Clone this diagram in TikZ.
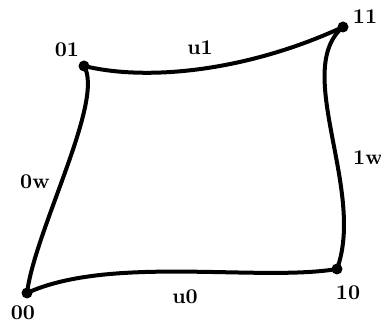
\documentclass[tikz,border=0pt]{standalone}
\usepackage{tikz}

\begin{document}
\begin{tikzpicture}[
  x=0.5pt,y=-0.5pt,
  font=\fontsize{10.5}{12}\selectfont\bfseries,
  dot/.style={circle,fill=black,inner sep=0pt,minimum size=5.5pt},
  edge/.style={line width=2pt,line cap=round},
  lbl/.style={inner sep=1pt}]
\useasboundingbox (0,0) rectangle (381,324);
% corners of the patch
\node[dot] (p00) at (27,293) {};
\node[dot] (p10) at (337,269) {};
\node[dot] (p11) at (343,27) {};
\node[dot] (p01) at (84,66) {};
% boundary curves
\draw[edge] (p00.center) .. controls (110,255) and (260,282) .. (p10.center);
\draw[edge] (p10.center) .. controls (366,190) and (292,70) .. (p11.center);
\draw[edge] (p01.center) .. controls (150,82) and (250,70) .. (p11.center);
\draw[edge] (p00.center) .. controls (35,230) and (105,100) .. (p01.center);
% labels
\node[lbl] (t00) at (23,313) {00};
\node[lbl] (t10) at (348,293) {10};
\node[lbl] (t11) at (365,17) {11};
\node[lbl] (t01) at (67,50) {01};
\node[lbl] (tu0) at (185,297) {u0};
\node[lbl] (tu1) at (200,48) {u1};
\node[lbl] (t0w) at (35,182) {0w};
\node[lbl] (t1w) at (368,158) {1w};
\end{tikzpicture}
\end{document}
